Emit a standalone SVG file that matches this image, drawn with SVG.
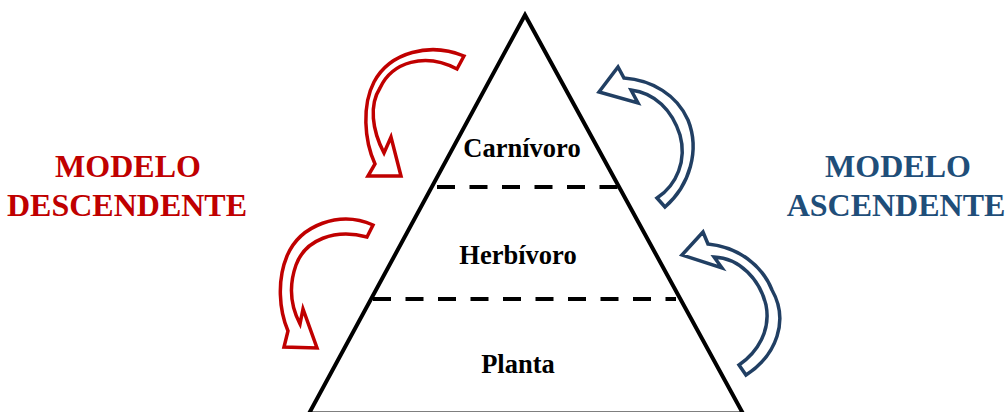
<svg xmlns="http://www.w3.org/2000/svg" width="1008" height="412" viewBox="0 0 1008 412">
<style>
.tri{fill:none;stroke:#000;stroke-width:4;stroke-linejoin:miter}
.dash{stroke:#000;stroke-width:4;stroke-dasharray:18 14.5;fill:none}
.lbl{font-family:"Liberation Serif","Times New Roman",serif;font-weight:bold;font-size:26.5px;fill:#000;text-anchor:middle}
.title{font-family:"Liberation Serif","Times New Roman",serif;font-weight:bold;font-size:32px;text-anchor:middle}
.red{fill:#C00000}
.blue{fill:#1F4E79}
.arR{fill:#fff;stroke:#C00000;stroke-width:3.5;stroke-linejoin:miter}
.arB{fill:#fff;stroke:#213F63;stroke-width:3.5;stroke-linejoin:miter}
</style>
<rect width="1008" height="412" fill="#fff"/>
<g id="pyramid">
<polygon class="tri" points="525,15 309,413.5 743,413.5"/>
</g>
<g id="connectors">
<line class="dash" x1="437" y1="187" x2="618" y2="187"/>
<line class="dash" x1="373" y1="299" x2="676" y2="299"/>
<path id="arrow-desc-1" class="arR" d="M464 56 C430 42 390 52 374 82 C362 105 364 140 375 164 L368 176 L401 176 L391 137 L384 153 C372 130 369 105 380 88 C392 62 425 52 457 69 Z"/>
<path id="arrow-desc-2" class="arR" d="M373 225 C340 210 300 225 287 256 C277 280 279 310 288 331 L284 347 L317 348 L303 309 L300 324 C290 305 289 285 296 265 C305 240 335 228 367 237 Z"/>
<path id="arrow-asc-1" class="arB" d="M665 207 C690 185 700 150 688 120 C677 95 652 80 624 78 L618 67 L599 92 L638 103 L631 90 C655 93 672 110 680 135 C687 160 677 185 657 198 Z"/>
<path id="arrow-asc-2" class="arB" d="M746 375 C777 355 789 320 772 290 C762 265 738 247 708 244 L703 232 L682 255 L722 268 L714 257 C740 258 760 280 766 305 C771 330 758 352 739 365 Z"/>
</g>
<g id="carnivoro"><text class="lbl" x="522" y="157">Carnívoro</text></g>
<g id="herbivoro"><text class="lbl" x="518" y="264">Herbívoro</text></g>
<g id="planta"><text class="lbl" x="518" y="373">Planta</text></g>
<g id="modelo-descendente">
<text class="title red" x="128" y="177">MODELO</text>
<text class="title red" x="127" y="216">DESCENDENTE</text>
</g>
<g id="modelo-ascendente">
<text class="title blue" x="898" y="177">MODELO</text>
<text class="title blue" x="896" y="216">ASCENDENTE</text>
</g>
</svg>
